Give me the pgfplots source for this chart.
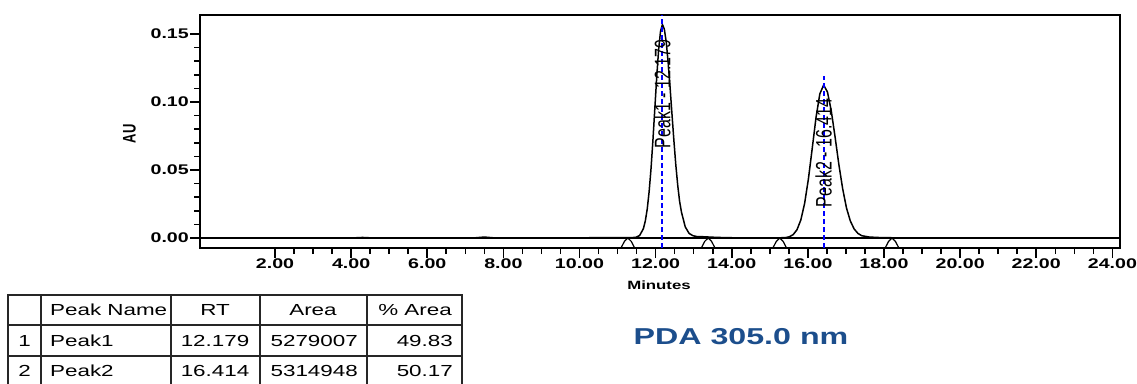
\documentclass[border=0pt]{standalone}
\usepackage{fontspec}
\setmainfont[FakeStretch=1.4]{Liberation Sans}
\newfontfamily\plainsans{Liberation Sans}
\usepackage{pgfplots}
\pgfplotsset{compat=1.18}
\definecolor{pdablue}{RGB}{28,78,140}
\begin{document}
\begin{tikzpicture}[x=1pt,y=1pt]
\useasboundingbox (0,0) rectangle (1137,383);
\begin{axis}[
  at={(200pt,135pt)}, anchor=south west,
  scale only axis, width=920pt, height=233pt,
  xmin=0.03, xmax=24.2, ymin=-0.00735, ymax=0.164,
  axis line style={line width=1.9pt},
  xtick={2,4,...,24}, minor x tick num=3,
  ytick={0,0.05,0.1,0.15}, minor y tick num=4,
  tick align=outside, xtick pos=left, ytick pos=left,
  major tick length=10pt, minor tick length=6pt,
  every tick/.style={black, line width=1.6pt},
  tick label style={font=\fontsize{14}{16}\selectfont\bfseries},
  yticklabel style={anchor=east, inner sep=1pt},
  xticklabel style={anchor=north, inner sep=1pt},
  /pgf/number format/fixed, /pgf/number format/fixed zerofill,
  /pgf/number format/precision=2, /pgf/number format/assume math mode=true,
  scaled y ticks=false,
]
% zero line
\addplot[black, line width=1.2pt] coordinates {(0.03,0) (24.2,0)};
% trace
\addplot[black, line width=1.5pt] coordinates {
(0.03,0) (4.0,0) (4.3,0.0004) (4.6,0) (7.2,0) (7.5,0.0007) (7.8,0) (10.0,0) (10.4,0.0003) (10.8,0.0002) (11.179,0.0002)
(11.379,0.0003) (11.479,0.0005) (11.579,0.0018) (11.679,0.0069) (11.729,0.0125) (11.779,0.0212) (11.829,0.0340)
(11.879,0.0510) (11.929,0.0719) (11.979,0.0952) (12.029,0.1185) (12.079,0.1386) (12.129,0.1521) (12.179,0.1570)
(12.229,0.1536) (12.279,0.1440) (12.329,0.1291) (12.379,0.1110) (12.429,0.0913) (12.479,0.0720) (12.529,0.0542)
(12.579,0.0392) (12.629,0.0271) (12.679,0.0190) (12.779,0.0081) (12.879,0.0034) (12.979,0.0017) (13.079,0.0011)
(13.279,0.0009) (13.479,0.0006) (13.779,0.0003) (14.179,0.0001) (15.0,0)
(15.214,0.0001) (15.414,0.0003) (15.514,0.0009) (15.614,0.0025) (15.714,0.0061) (15.814,0.0132) (15.914,0.0254)
(16.014,0.0435) (16.114,0.0659) (16.214,0.0887) (16.314,0.1060) (16.414,0.1125) (16.514,0.1074) (16.614,0.0936)
(16.714,0.0744) (16.814,0.0540) (16.914,0.0362) (17.014,0.0221) (17.114,0.0126) (17.214,0.0067) (17.314,0.0034)
(17.414,0.0017) (17.614,0.0007) (17.914,0.0003) (18.414,0.0001) (18.914,0) (24.2,0)
};
% integration markers
\addplot[black, line width=1.2pt] coordinates {(11.09,-0.00735) (11.18,-0.0025) (11.27,0) (11.36,-0.0025) (11.45,-0.00735)};
\addplot[black, line width=1.2pt] coordinates {(13.20,-0.00735) (13.29,-0.0025) (13.38,0) (13.47,-0.0025) (13.56,-0.00735)};
\addplot[black, line width=1.2pt] coordinates {(15.08,-0.00735) (15.17,-0.0025) (15.26,0) (15.35,-0.0025) (15.44,-0.00735)};
\addplot[black, line width=1.2pt] coordinates {(18.03,-0.00735) (18.12,-0.0025) (18.21,0) (18.30,-0.0025) (18.39,-0.00735)};
% retention time markers
\addplot[blue, line width=2pt, dash pattern=on 5pt off 3pt] coordinates {(12.179,-0.00735) (12.179,0.164)};
\addplot[blue, line width=2pt, dash pattern=on 5pt off 3pt] coordinates {(16.414,-0.00735) (16.414,0.119)};
\node[font=\plainsans\fontsize{16}{18}\selectfont, rotate=90, yscale=1.4, inner sep=0pt] at (axis cs:12.179,0.106) {Peak1 - 12.179};
\node[font=\plainsans\fontsize{16}{18}\selectfont, rotate=90, yscale=1.4, inner sep=0pt] at (axis cs:16.414,0.0625) {Peak2 - 16.414};
\end{axis}
% axis labels
\node[font=\plainsans\fontsize{13}{15}\selectfont\bfseries, rotate=90, yscale=1.4, inner sep=0pt] at (129.5,249) {AU};
\node[font=\fontsize{12}{14}\selectfont\bfseries, inner sep=0pt] at (659,98) {Minutes};
\node[font=\fontsize{23}{26}\selectfont\bfseries, text=pdablue, inner sep=0pt] at (741,46.5) {PDA 305.0 nm};
% table
\begin{scope}[line width=2pt, draw=black!85]
\draw (8,88) -- (462,88);
\draw (8,58) -- (462,58);
\draw (8,27) -- (462,27);
\foreach \xx in {8,41,171,260,367,462} \draw (\xx,89) -- (\xx,-2);
\end{scope}
\begin{scope}[font=\fontsize{16}{18}\selectfont, inner sep=0pt]
\node[anchor=base west] at (50,68) {Peak Name};
\node[anchor=base] at (215,68) {RT};
\node[anchor=base] at (313,68) {Area};
\node[anchor=base] at (415,68) {\% Area};
\node[anchor=base] at (24.5,36.5) {1};
\node[anchor=base west] at (50,36.5) {Peak1};
\node[anchor=base east] at (249.5,36.5) {12.179};
\node[anchor=base east] at (358,36.5) {5279007};
\node[anchor=base east] at (453,36.5) {49.83};
\node[anchor=base] at (24.5,6.5) {2};
\node[anchor=base west] at (50,6.5) {Peak2};
\node[anchor=base east] at (249.5,6.5) {16.414};
\node[anchor=base east] at (358,6.5) {5314948};
\node[anchor=base east] at (453,6.5) {50.17};
\end{scope}
\end{tikzpicture}
\end{document}
